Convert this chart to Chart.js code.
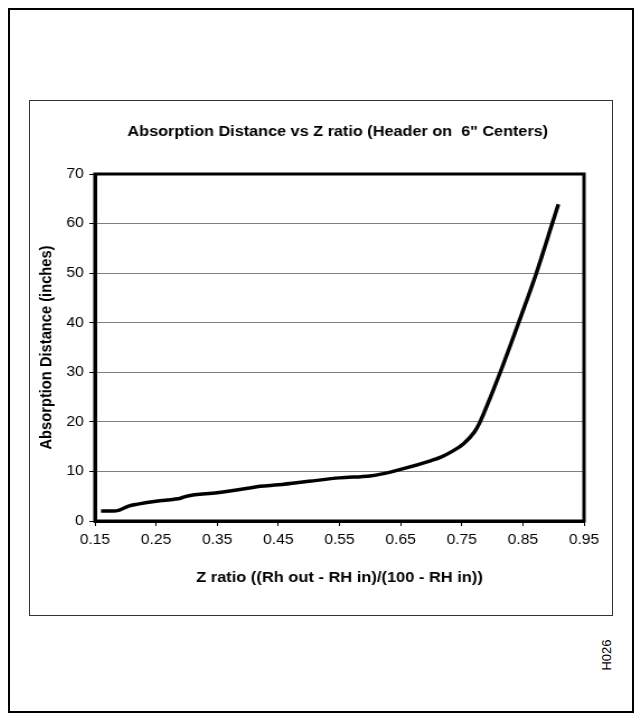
<!DOCTYPE html>
<html>
<head>
<meta charset="utf-8">
<script src="https://cdn.jsdelivr.net/npm/chart.js@4"></script>
<style>
  body { margin: 0; background: #fff; }
  #frame { position: absolute; left: 8px; top: 8px; width: 622px; height: 701px; border: 2px solid #000; }
  #box { position: absolute; left: 29px; top: 100px; width: 582px; height: 514px; border: 1px solid #333; }
  #stretch { position: absolute; left: 0; top: 0; width: 520px; height: 514px;
             transform: scaleX(1.1192); transform-origin: 0 0; }
  #code { position: absolute; left: 606px; top: 655px; transform: translate(-50%, -50%) rotate(-90deg);
          font: 13px "Liberation Sans", Arial, sans-serif; color: #000; }
  canvas { position: absolute; left: 0; top: 0; }
</style>
</head>
<body>
<div id="frame"></div>
<div id="box"><div id="stretch"><canvas id="myChart" width="520" height="514"></canvas></div></div>
<div id="code">H026</div>
<script>
const zRatio = [0.16, 0.18, 0.19, 0.205, 0.22, 0.25, 0.28, 0.29, 0.30, 0.35, 0.40, 0.42, 0.45, 0.50, 0.55, 0.60, 0.62, 0.65, 0.70, 0.716, 0.735, 0.753, 0.771, 0.780, 0.797, 0.813, 0.843, 0.872, 0.898, 0.908];
const distance = [2.0, 2.0, 2.2, 3.0, 3.4, 4.0, 4.4, 4.6, 5.0, 5.7, 6.6, 7.0, 7.3, 8.0, 8.7, 9.1, 9.5, 10.4, 12.2, 12.9, 14.1, 15.6, 18.0, 20.0, 25.0, 30.0, 40.0, 50.0, 60.0, 63.9];
const xTicks = [0.15, 0.25, 0.35, 0.45, 0.55, 0.65, 0.75, 0.85, 0.95];

const points = [];
for (let i = 0; i < zRatio.length; i++) {
  points.push({ x: zRatio[i], y: distance[i] });
}

const font = "'Liberation Sans', Arial, sans-serif";

const config = {
  type: "line",
  data: {
    datasets: [
      {
        data: points,
        borderColor: "#000",
        borderWidth: 3.5,
        pointRadius: 0,
        cubicInterpolationMode: "monotone",
        fill: false,
      },
    ],
  },
  options: {
    responsive: false,
    animation: false,
    layout: { padding: { top: 73, right: 25, left: 0, bottom: 0 } },
    plugins: {
      legend: { display: false },
      tooltip: { enabled: false },
    },
    scales: {
      x: {
        type: "linear",
        min: 0.15,
        max: 0.95,
        afterBuildTicks: (scale) => {
          scale.ticks = xTicks.map((v) => ({ value: v }));
        },
        afterFit: (scale) => { scale.height = 94; },
        ticks: {
          color: "#000",
          font: { family: font, size: 14 },
          padding: 6,
          maxRotation: 0,
          callback: (v) => Number(v).toFixed(2),
        },
        grid: { drawOnChartArea: false, tickLength: 5, color: "#000", tickColor: "#000" },
        border: { color: "#000", width: 3 },
        title: {
          display: true,
          text: "Z ratio ((Rh out - RH in)/(100 - RH in))",
          color: "#000",
          font: { family: font, size: 14.7, weight: "bold" },
          padding: { top: 0, bottom: 28 },
        },
      },
      y: {
        min: 0,
        max: 70,
        afterFit: (scale) => { scale.width = 58; },
        ticks: {
          stepSize: 10,
          color: "#000",
          font: { family: font, size: 14 },
          padding: 5,
        },
        grid: { color: "#808080", lineWidth: 1, tickLength: 5, tickColor: "#000" },
        border: { color: "#000", width: 3 },
        title: {
          display: true,
          text: "Absorption Distance (inches)",
          color: "#000",
          font: { family: font, size: 14.7, weight: "bold" },
          padding: { top: 6, bottom: 0 },
        },
      },
    },
  },
  plugins: [
    {
      id: "frameAndTitle",
      afterDraw(chart) {
        const ctx = chart.ctx;
        const a = chart.chartArea;
        ctx.save();
        ctx.strokeStyle = "#000";
        ctx.lineWidth = 3;
        ctx.strokeRect(a.left, a.top, a.right - a.left, a.bottom - a.top);
        ctx.fillStyle = "#000";
        ctx.font = "bold 14.5px " + font;
        ctx.textAlign = "center";
        ctx.textBaseline = "middle";
        ctx.fillText("Absorption Distance vs Z ratio (Header on  6\" Centers)", 275, 31);
        ctx.restore();
      },
    },
  ],
};

const myChart = new Chart(document.getElementById("myChart"), config);
</script>
</body>
</html>
